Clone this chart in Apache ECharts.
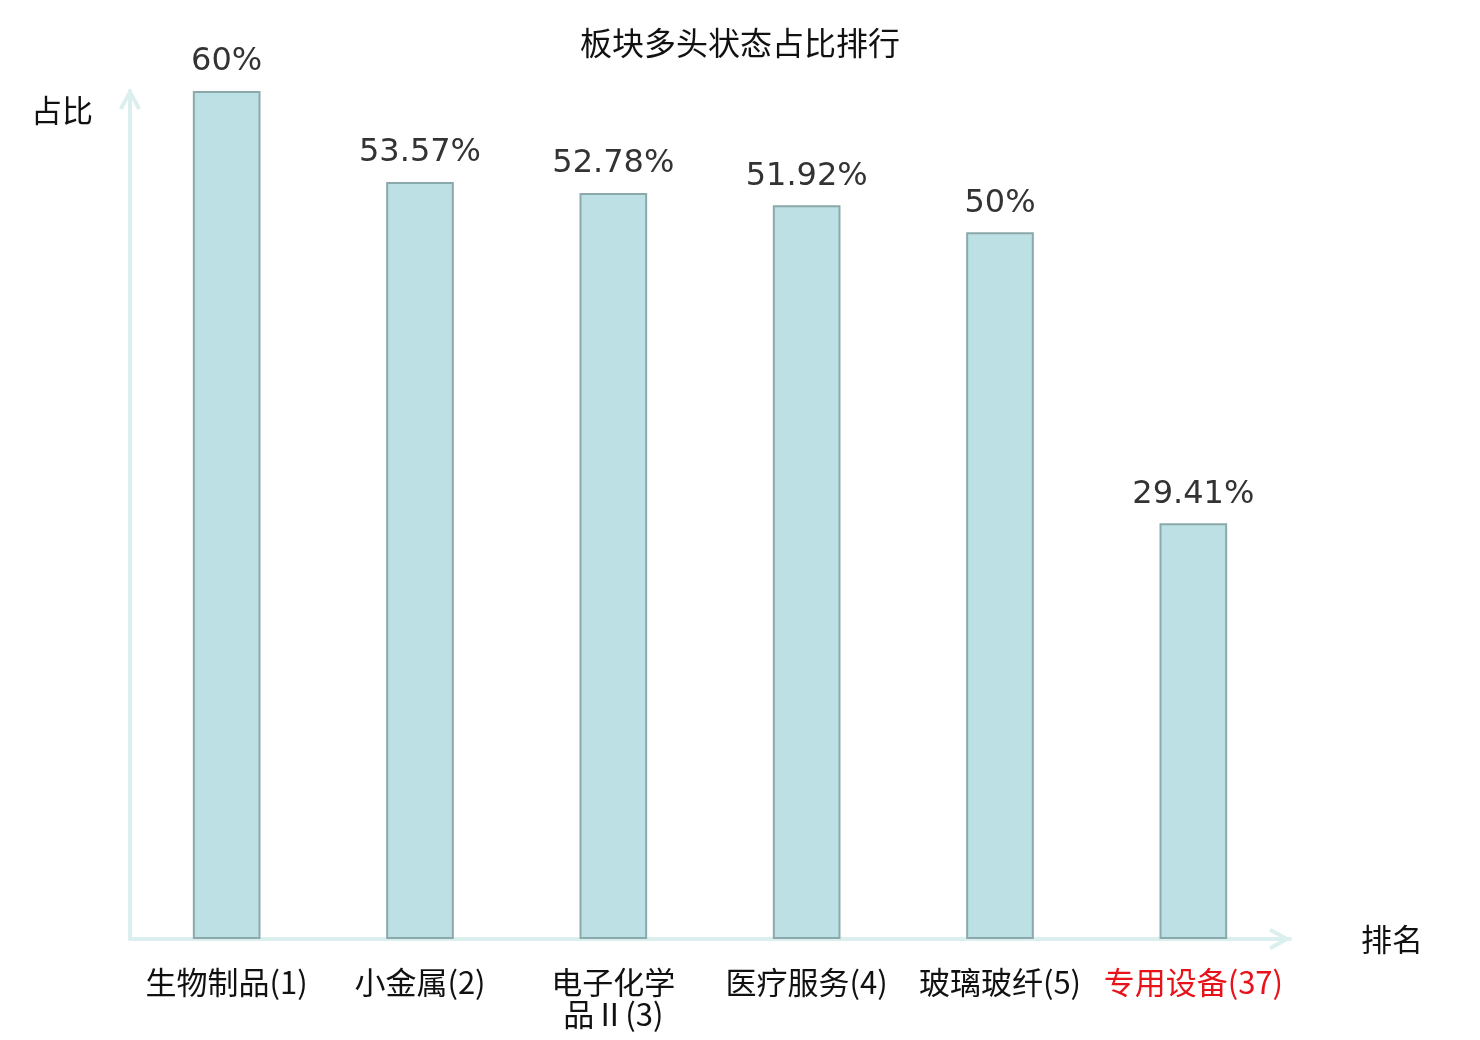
<!DOCTYPE html>
<html>
  <head>
    <meta charset="utf-8" />
    <title>板块多头状态占比排行</title>
    <script src="https://cdn.jsdelivr.net/npm/echarts@6/dist/echarts.min.js"></script>
    <style>
      * {
        padding: 0;
        margin: 0;
      }
      #chart-panel {
        width: 1480px;
        height: 1040px;
      }
    </style>
  </head>
  <body>
    <div id="chart-panel"></div>
    <script type="text/javascript">
      // 数据
      const sectors = ["生物制品", "小金属", "电子化学品Ⅱ", "医疗服务", "玻璃玻纤", "专用设备"];
      const ranks = [1, 2, 3, 4, 5, 37];
      const ratios = [60, 53.57, 52.78, 51.92, 50, 29.41];
      const highlightRank = 37;

      const axisColor = "#dbf0ee";
      // 空心箭头（朝上，由 echarts 旋转到轴方向）
      const chevron = "path://M11,0 L22,20 L18.5,22 L11,8 L3.5,22 L0,20 Z";

      var myChart = echarts.init(document.getElementById("chart-panel"));

      var option = {
        animation: false,
        title: {
          text: "板块多头状态占比排行",
          left: "center",
          top: 22,
          textStyle: {
            fontFamily: "Noto Sans CJK SC",
            fontSize: 32,
            fontWeight: "normal",
            color: "#111",
          },
        },
        grid: {
          left: 130,
          right: 190,
          top: 91,
          bottom: 101,
        },
        xAxis: {
          type: "category",
          data: sectors,
          name: "排名",
          nameGap: 71,
          nameTextStyle: {
            fontFamily: "Noto Sans CJK SC",
            fontSize: 31,
            color: "#111",
            padding: [6, 0, 0, 0],
          },
          axisLine: {
            lineStyle: { color: axisColor, width: 4 },
            symbol: ["none", chevron],
            symbolSize: [22, 22],
            symbolOffset: [0, -10],
          },
          axisTick: { show: false },
          axisLabel: {
            margin: 27,
            interval: 0,
            fontFamily: "Noto Sans CJK SC",
            fontSize: 31,
            lineHeight: 32,
            color: "#111",
            formatter: function (name, idx) {
              var rank = ranks[idx];
              var text = name.length > 4 ? name.slice(0, 4) + "\n" + name.slice(4) : name;
              text += "(" + rank + ")";
              return rank === highlightRank ? "{hl|" + text + "}" : text;
            },
            rich: {
              hl: {
                color: "#e8121a",
                fontFamily: "Noto Sans CJK SC",
                fontSize: 31,
                lineHeight: 32,
              },
            },
          },
        },
        yAxis: {
          type: "value",
          min: 0,
          max: 60,
          name: "占比",
          nameGap: -4,
          nameTextStyle: {
            fontFamily: "Noto Sans CJK SC",
            fontSize: 31,
            color: "#111",
            align: "right",
            verticalAlign: "top",
            padding: [0, 37, 0, 0],
          },
          axisLine: {
            show: true,
            lineStyle: { color: axisColor, width: 4 },
            symbol: ["none", chevron],
            symbolSize: [22, 22],
            symbolOffset: [0, -8],
          },
          axisTick: { show: false },
          axisLabel: { show: false },
          splitLine: { show: false },
        },
        series: [
          {
            type: "bar",
            data: ratios,
            barWidth: "35%",
            itemStyle: {
              color: "#bce0e3",
              borderColor: "#8ba9ab",
              borderWidth: 2,
            },
            label: {
              show: true,
              position: "top",
              distance: 13,
              fontFamily: "DejaVu Sans",
              fontSize: 32,
              color: "#333",
              formatter: function (p) {
                return p.value + "%";
              },
            },
          },
        ],
      };

      myChart.setOption(option);
      window.addEventListener("resize", myChart.resize);
    </script>
  </body>
</html>
